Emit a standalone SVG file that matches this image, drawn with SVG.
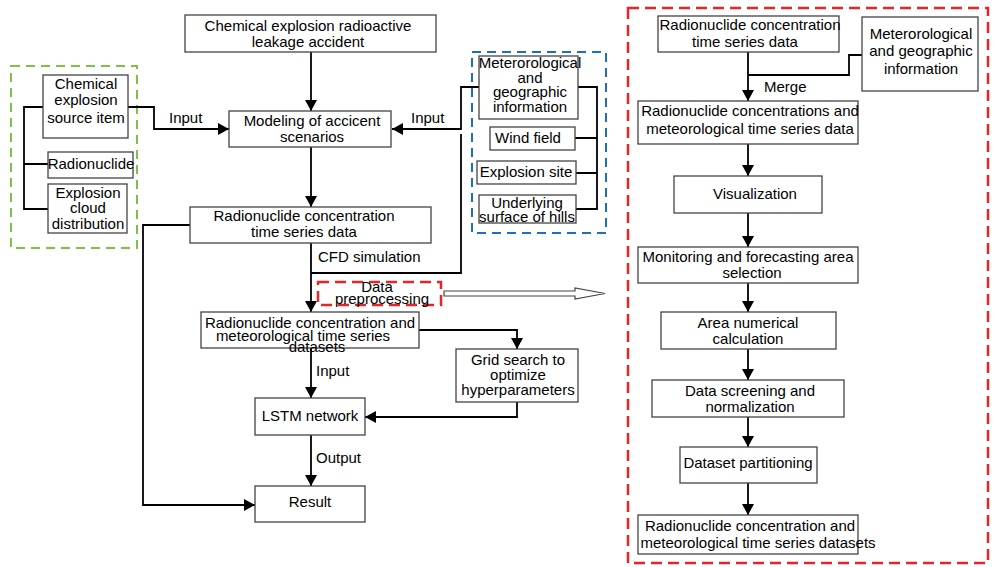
<svg xmlns="http://www.w3.org/2000/svg" width="1000" height="567" viewBox="0 0 1000 567">
<style>
.box{fill:#fff;stroke:#444;stroke-width:1.3}
.t{font-family:"Liberation Sans",Arial,sans-serif;font-size:15px;fill:#000;text-anchor:middle}
.l{font-family:"Liberation Sans",Arial,sans-serif;font-size:15px;fill:#000}
.c{fill:none;stroke:#000;stroke-width:1.8}
.ca{fill:none;stroke:#000;stroke-width:1.8;marker-end:url(#ah)}
.g{fill:none;stroke:#7cc243;stroke-width:2;stroke-dasharray:9 6}
.b{fill:none;stroke:#1d6fc4;stroke-width:2;stroke-dasharray:9 6}
.r{fill:none;stroke:#e82428;stroke-width:2.5;stroke-dasharray:11 6}
</style>
<defs>
<marker id="ah" markerUnits="userSpaceOnUse" markerWidth="12" markerHeight="12" refX="11" refY="6" orient="auto">
<path d="M0,0 L11,6 L0,12 z" fill="#000"/>
</marker>
</defs>
<rect width="1000" height="567" fill="#fff"/>

<g id="groups">
<rect class="g" x="11" y="66" width="126" height="182"/>
<rect class="b" x="472" y="52" width="134" height="181"/>
<rect class="r" x="628" y="8" width="360" height="555"/>
</g>

<g id="connectors">
<path class="c" d="M43,107 H24 V209 H48 M24,164 H48"/>
<path class="ca" d="M128,107 H154 V129 H229"/>
<path class="ca" d="M311,52 V111"/>
<path class="ca" d="M311,147 V207"/>
<path class="c" d="M578,87 H597 V209 H576 M575,138 H597 M576,173 H597"/>
<path class="ca" d="M479,87 H461 V129 H392"/>
<path class="c" d="M461,134 V273 H311"/>
<path class="ca" d="M311,243 V312"/>
<path class="ca" d="M190,225 H143 V505 H255"/>
<path class="ca" d="M419,330 H517 V349"/>
<path class="ca" d="M517,402 V417 H365"/>
<path class="ca" d="M311,348 V398"/>
<path class="ca" d="M311,435 V486"/>
<path d="M444,291 H575 V288 L605,293.5 L575,299 V296 H444 z" fill="#fff" stroke="#444" stroke-width="1.2"/>
<path class="ca" d="M748,52 V101"/>
<path class="c" d="M862,55 H849 V75 H748"/>
<path class="ca" d="M748,144 V176"/>
<path class="ca" d="M748,213 V247"/>
<path class="ca" d="M748,283 V312"/>
<path class="ca" d="M748,349 V380"/>
<path class="ca" d="M748,417 V447"/>
<path class="ca" d="M748,483 V515"/>
<text class="l" x="169" y="123">Input</text>
<text class="l" x="411" y="123">Input</text>
<text class="l" x="318" y="262">CFD simulation</text>
<text class="l" x="316" y="376">Input</text>
<text class="l" x="316" y="463">Output</text>
<text class="l" x="764" y="92">Merge</text>
</g>

<g id="n-source">
<rect class="box" x="43" y="75" width="85" height="63"/>
<text class="t" x="86" y="89">Chemical</text>
<text class="t" x="86" y="105">explosion</text>
<text class="t" x="86" y="123">source item</text>
</g>
<g id="n-radionuclide">
<rect class="box" x="48" y="152" width="85" height="26"/>
<text class="t" x="91" y="169">Radionuclide</text>
</g>
<g id="n-cloud">
<rect class="box" x="48" y="184" width="79" height="49"/>
<text class="t" x="88" y="198">Explosion</text>
<text class="t" x="88" y="213">cloud</text>
<text class="t" x="88" y="229">distribution</text>
</g>

<g id="n-accident">
<rect class="box" x="185" y="15" width="251" height="37"/>
<text class="t" x="308" y="31">Chemical explosion radioactive</text>
<text class="t" x="308" y="47">leakage accident</text>
</g>
<g id="n-modeling">
<rect class="box" x="229" y="111" width="162" height="36"/>
<text class="t" x="312" y="126">Modeling of accicent</text>
<text class="t" x="312" y="142">scenarios</text>
</g>
<g id="n-conc">
<rect class="box" x="190" y="207" width="241" height="36"/>
<text class="t" x="304" y="221">Radionuclide concentration</text>
<text class="t" x="304" y="237">time series data</text>
</g>

<g id="n-meteo">
<rect class="box" x="479" y="56" width="99" height="63"/>
<text class="t" x="530" y="68">Meterorological</text>
<text class="t" x="530" y="83">and</text>
<text class="t" x="530" y="97">geographic</text>
<text class="t" x="530" y="112">information</text>
</g>
<g id="n-wind">
<rect class="box" x="490" y="127" width="85" height="23"/>
<text class="t" x="528" y="143">Wind field</text>
</g>
<g id="n-site">
<rect class="box" x="477" y="161" width="99" height="23"/>
<text class="t" x="526" y="177">Explosion site</text>
</g>
<g id="n-hills">
<rect class="box" x="479" y="195" width="97" height="28"/>
<text class="t" x="527" y="208">Underlying</text>
<text class="t" x="527" y="222">surface of hills</text>
</g>

<g id="n-preproc">
<rect class="r" x="318" y="282" width="123" height="23" stroke-width="2"/>
<text class="t" x="377" y="292">Data</text>
<text class="t" x="382" y="304">preprocessing</text>
</g>
<g id="n-datasets">
<rect class="box" x="201" y="312" width="218" height="36"/>
<text class="t" x="310" y="328">Radionuclide concentration and</text>
<text class="t" x="303" y="341">meteorological time series</text>
<text class="t" x="317" y="352">datasets</text>
</g>
<g id="n-grid">
<rect class="box" x="456" y="349" width="122" height="53"/>
<text class="t" x="518" y="365">Grid search to</text>
<text class="t" x="518" y="380">optimize</text>
<text class="t" x="518" y="395">hyperparameters</text>
</g>
<g id="n-lstm">
<rect class="box" x="255" y="398" width="110" height="37"/>
<text class="t" x="310" y="421">LSTM network</text>
</g>
<g id="n-result">
<rect class="box" x="255" y="486" width="110" height="36"/>
<text class="t" x="310" y="507">Result</text>
</g>

<g id="r-conc">
<rect class="box" x="658" y="16" width="181" height="36"/>
<text class="t" x="750" y="30">Radionuclide concentration</text>
<text class="t" x="745" y="47">time series data</text>
</g>
<g id="r-meteo">
<rect class="box" x="862" y="17" width="116" height="74"/>
<text class="t" x="921" y="39">Meterorological</text>
<text class="t" x="921" y="56">and geographic</text>
<text class="t" x="921" y="74">information</text>
</g>
<g id="r-merged">
<rect class="box" x="638" y="101" width="220" height="43"/>
<text class="t" x="750" y="116">Radionuclide concentrations and</text>
<text class="t" x="750" y="134">meteorological time series data</text>
</g>
<g id="r-vis">
<rect class="box" x="674" y="176" width="148" height="37"/>
<text class="t" x="755" y="199">Visualization</text>
</g>
<g id="r-monitor">
<rect class="box" x="638" y="247" width="220" height="36"/>
<text class="t" x="748" y="262">Monitoring and forecasting area</text>
<text class="t" x="752" y="278">selection</text>
</g>
<g id="r-area">
<rect class="box" x="661" y="312" width="175" height="37"/>
<text class="t" x="748" y="328">Area numerical</text>
<text class="t" x="748" y="344">calculation</text>
</g>
<g id="r-screen">
<rect class="box" x="652" y="380" width="192" height="37"/>
<text class="t" x="750" y="396">Data screening and</text>
<text class="t" x="750" y="412">normalization</text>
</g>
<g id="r-part">
<rect class="box" x="680" y="447" width="137" height="36"/>
<text class="t" x="748" y="468">Dataset partitioning</text>
</g>
<g id="r-final">
<rect class="box" x="638" y="515" width="220" height="39"/>
<text class="t" x="750" y="531">Radionuclide concentration and</text>
<text class="t" x="758" y="548">meteorological time series datasets</text>
</g>
</svg>
